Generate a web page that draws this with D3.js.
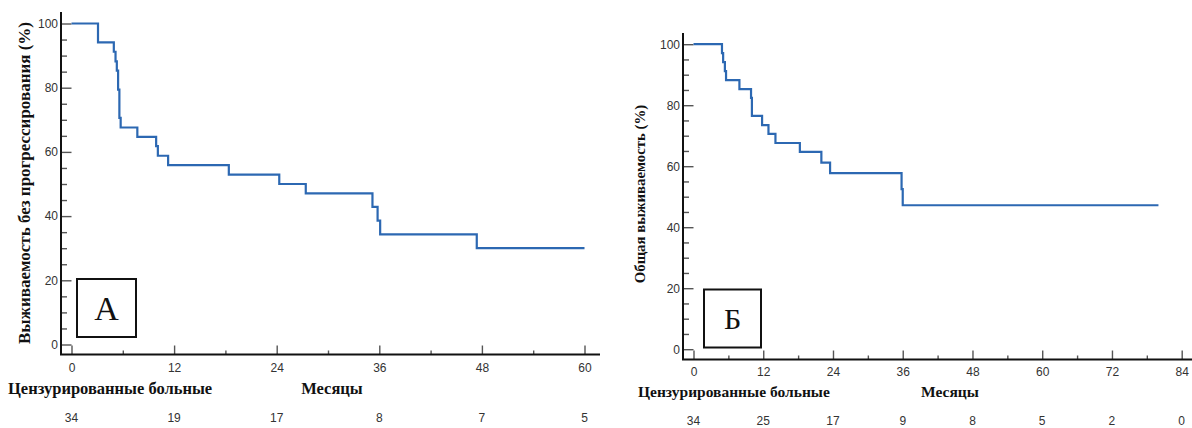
<!DOCTYPE html>
<html>
<head>
<meta charset="utf-8">
<script src="https://cdn.jsdelivr.net/npm/d3@7"></script>
<style>
  body { margin: 0; background: #fff; }
  svg { display: block; }
  .tick text { font-family: "Liberation Sans", Arial, sans-serif; font-size: 12px; fill: #333; }
  .title { font-family: "Liberation Serif", "Times New Roman", serif; font-weight: bold; fill: #111; }
</style>
</head>
<body>
<script>
// Panel A: progression-free survival (months, %)
const pfsTimes = [0, 3.1, 4.95, 5.15, 5.3, 5.45, 5.6, 5.75, 7.7, 9.9, 10.1, 11.3, 18.4, 24.3, 27.4, 35.2, 35.8, 36.1, 47.4, 60];
const pfsSurv  = [100, 94.1, 91.2, 88.2, 85.3, 79.4, 70.6, 67.6, 64.7, 61.8, 58.8, 55.9, 52.9, 50.0, 47.1, 42.9, 38.6, 34.3, 30.0, 30.0];
const pfsTicks = [0, 12, 24, 36, 48, 60];
const pfsAtRisk = [34, 19, 17, 8, 7, 5];

// Panel Б: overall survival (months, %)
const osTimes = [0, 4.9, 5.1, 5.4, 5.6, 7.9, 9.9, 10.05, 11.8, 12.9, 14.1, 18.3, 22.0, 23.5, 35.8, 36.0, 80];
const osSurv  = [100, 97.1, 94.1, 91.2, 88.2, 85.3, 82.4, 76.5, 73.5, 70.6, 67.6, 64.7, 61.2, 57.7, 52.5, 47.2, 47.2];
const osTicks = [0, 12, 24, 36, 48, 60, 72, 84];
const osAtRisk = [34, 25, 17, 9, 8, 5, 2, 0];

const yTicks = [0, 20, 40, 60, 80, 100];

const svg = d3.select("body").append("svg")
    .attr("width", 1192)
    .attr("height", 428);

function drawPanel(p) {
    const x = d3.scaleLinear().domain(p.xDomain).range(p.xRange);
    const y = d3.scaleLinear().domain([0, 100]).range(p.yRange);
    const g = svg.append("g");

    // y ticks: minor every 5, major every 20, pointing inward
    const yMinor = d3.range(0, 101, 5).filter(v => v % 20 !== 0);
    g.append("g")
        .attr("transform", `translate(${p.axisX},0)`)
        .call(d3.axisLeft(y).tickValues(yMinor).tickSizeInner(-6).tickSizeOuter(0).tickFormat(""))
        .call(s => s.select(".domain").remove());
    g.append("g")
        .attr("transform", `translate(${p.axisX},0)`)
        .call(d3.axisLeft(y).tickValues(yTicks).tickSizeInner(-(x(0) - p.axisX)).tickSizeOuter(0).tickPadding(3))
        .call(s => s.select(".domain").remove());

    // x ticks: minor every 6, major every 12, pointing upward
    const xMinor = p.xTicks.slice(0, -1).map(v => v + 6).filter(v => v <= p.xDomain[1]);
    g.append("g")
        .attr("transform", `translate(0,${p.axisY})`)
        .call(d3.axisBottom(x).tickValues(xMinor).tickSizeInner(-4).tickSizeOuter(0).tickFormat(""))
        .call(s => s.select(".domain").remove());
    g.append("g")
        .attr("transform", `translate(0,${p.axisY})`)
        .call(d3.axisBottom(x).tickValues(p.xTicks).tickSizeInner(-9).tickSizeOuter(0).tickPadding(p.xPad))
        .call(s => s.select(".domain").remove());

    g.selectAll(".tick line").attr("stroke", "#555").attr("stroke-width", 1.4);

    // axis lines
    g.append("path")
        .attr("d", `M${p.axisX},${p.axisTop}V${p.axisY}H${p.axisRight}`)
        .attr("fill", "none")
        .attr("stroke", "#111")
        .attr("stroke-width", 2);

    // survival curve
    const pts = p.times.map((t, i) => [t, p.surv[i]]);
    g.append("path")
        .datum(pts)
        .attr("fill", "none")
        .attr("stroke", "#2c68b2")
        .attr("stroke-width", 2.2)
        .attr("d", d3.line().x(d => x(d[0])).y(d => y(d[1])).curve(d3.curveStepAfter));

    // titles
    g.append("text")
        .attr("class", "title")
        .attr("transform", `translate(${p.yTitle[0]},${p.yTitle[1]}) rotate(-90)`)
        .attr("text-anchor", "middle")
        .attr("dy", "0.35em")
        .style("font-size", p.yTitleSize + "px")
        .text(p.yLabel);
    g.append("text")
        .attr("class", "title")
        .attr("x", p.censX)
        .attr("y", p.censY)
        .style("font-size", p.censSize + "px")
        .text("Цензурированные больные");
    g.append("text")
        .attr("class", "title")
        .attr("x", p.monthX)
        .attr("y", p.censY)
        .attr("text-anchor", "middle")
        .style("font-size", p.censSize + "px")
        .text("Месяцы");

    // numbers at risk
    g.selectAll(".risk")
        .data(p.atRisk)
        .join("text")
        .attr("class", "risk")
        .attr("x", (d, i) => x(p.xTicks[i]))
        .attr("y", p.riskY)
        .attr("text-anchor", "middle")
        .style("font-family", "'Liberation Sans', Arial, sans-serif")
        .style("font-size", "12px")
        .style("fill", "#333")
        .text(d => d);

    // panel letter box
    const b = p.box;
    g.append("rect")
        .attr("x", b[0]).attr("y", b[1]).attr("width", b[2]).attr("height", b[3])
        .attr("fill", "#fff").attr("stroke", "#111").attr("stroke-width", 2);
    g.append("text")
        .attr("x", b[0] + b[2] / 2)
        .attr("y", b[1] + b[3] / 2)
        .attr("dy", "0.35em")
        .attr("text-anchor", "middle")
        .style("font-family", "'Liberation Serif', 'Times New Roman', serif")
        .style("font-size", p.letterSize + "px")
        .style("fill", "#111")
        .text(p.letter);
}

drawPanel({
    times: pfsTimes, surv: pfsSurv, xTicks: pfsTicks, atRisk: pfsAtRisk,
    xDomain: [0, 60], xRange: [71.5, 584.5], yRange: [344.5, 23.5],
    axisX: 61, axisY: 354.5, axisTop: 12, axisRight: 600, xPad: 9,
    yLabel: "Выживаемость без прогрессирования (%)", yTitle: [24, 183], yTitleSize: 17,
    censX: 8, censY: 394, censSize: 16.5, monthX: 332, riskY: 422,
    box: [77, 279, 59, 58], letter: "А", letterSize: 34
});

drawPanel({
    times: osTimes, surv: osSurv, xTicks: osTicks, atRisk: osAtRisk,
    xDomain: [0, 84], xRange: [693.5, 1181.7], yRange: [349.2, 44.2],
    axisX: 683, axisY: 359.5, axisTop: 33, axisRight: 1192, xPad: 8,
    yLabel: "Общая выживаемость (%)", yTitle: [640, 194], yTitleSize: 14.8,
    censX: 638, censY: 397, censSize: 15.5, monthX: 950, riskY: 425,
    box: [704, 289.5, 57, 58], letter: "Б", letterSize: 30
});
</script>
</body>
</html>
